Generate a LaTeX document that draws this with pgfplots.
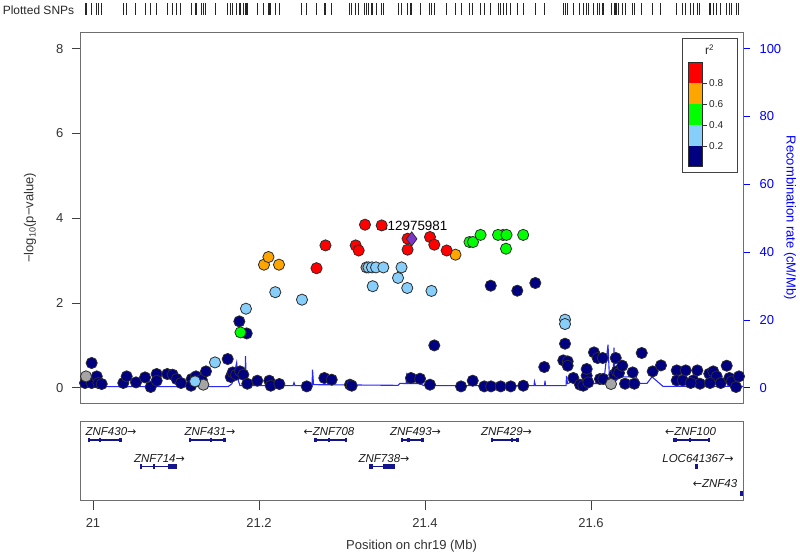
\documentclass[border=0pt]{standalone}
\usepackage{fontspec}
\setmainfont{Liberation Sans}
\newfontfamily\arrowfont{DejaVu Sans}
\usepackage{pgfplots}
\usepackage{pgfplotstable}
\pgfplotsset{compat=1.18}
\definecolor{navyc}{RGB}{0,0,128}
\definecolor{lblue}{RGB}{135,206,250}
\definecolor{lgreen}{RGB}{0,255,0}
\definecolor{lorange}{RGB}{255,165,0}
\definecolor{lred}{RGB}{255,0,0}
\definecolor{lgray}{RGB}{165,165,165}
\definecolor{lpurple}{RGB}{125,55,200}
\definecolor{recblue}{RGB}{40,40,255}
\definecolor{axblue}{RGB}{0,0,255}
\definecolor{framegray}{RGB}{110,110,110}
\definecolor{edgec}{RGB}{45,45,45}
\definecolor{genec}{RGB}{20,20,140}

\pgfplotstableread{
x y
20.9904 0.111
20.9984 0.583
20.9984 0.111
21.0045 0.267
21.0064 0.111
21.0105 0.087
21.0365 0.111
21.0406 0.267
21.0518 0.125
21.0627 0.243
21.0695 0.017
21.0767 0.323
21.0767 0.165
21.0895 0.323
21.0960 0.307
21.1008 0.205
21.1060 0.111
21.1189 0.205
21.1181 0.047
21.1241 0.267
21.1310 0.189
21.1361 0.385
21.1623 0.677
21.1660 0.253
21.1683 0.361
21.1723 0.307
21.1771 0.385
21.1811 0.307
21.1859 0.094
21.1763 1.565
21.1852 1.281
21.1980 0.165
21.2124 0.165
21.2141 0.047
21.2245 0.087
21.2575 0.031
21.2787 0.229
21.2876 0.189
21.3096 0.071
21.3117 0.047
21.3831 0.229
21.3940 0.212
21.4060 0.071
21.4112 0.998
21.4434 0.031
21.4575 0.165
21.4714 0.031
21.4795 0.031
21.4912 0.031
21.5033 0.031
21.5184 0.047
21.4792 2.407
21.5112 2.289
21.5329 2.471
21.5437 0.488
21.5687 1.038
21.5666 0.644
21.5719 0.621
21.5719 0.519
21.5787 0.229
21.5867 0.071
21.5907 0.047
21.5948 0.283
21.5948 0.441
21.5967 0.125
21.6036 0.833
21.6080 0.701
21.6141 0.701
21.6108 0.205
21.6148 0.205
21.6281 0.307
21.6310 0.385
21.6298 0.701
21.6337 0.347
21.6377 0.519
21.6410 0.094
21.6502 0.361
21.6522 0.094
21.6611 0.819
21.6743 0.385
21.6843 0.526
21.7033 0.408
21.7033 0.172
21.7141 0.408
21.7105 0.172
21.7281 0.408
21.7233 0.172
21.7313 0.094
21.7201 0.111
21.7425 0.330
21.7473 0.385
21.7514 0.267
21.7434 0.111
21.7563 0.111
21.7635 0.519
21.7667 0.229
21.7695 0.149
21.7747 0.017
21.7783 0.267
}\navytab

\pgfplotstableread{
x y
20.9916 0.267
21.1329 0.071
21.6241 0.087
21.3295 2.839
21.4940 3.604
}\graytab

\pgfplotstableread{
x y
21.1229 0.149
21.1470 0.597
21.1843 1.864
21.2196 2.254
21.2518 2.077
21.3319 2.839
21.3361 2.839
21.3410 2.839
21.3498 2.839
21.3370 2.395
21.3717 2.839
21.3675 2.591
21.3786 2.353
21.4078 2.284
21.5687 1.605
21.5687 1.503
}\lbluetab

\pgfplotstableread{
x y
21.1777 1.305
21.4536 3.438
21.4578 3.438
21.4669 3.606
21.4880 3.606
21.4982 3.606
21.4976 3.280
21.5183 3.606
}\greentab

\pgfplotstableread{
x y
21.2060 2.903
21.2114 3.084
21.2241 2.903
21.4367 3.139
}\orangetab

\pgfplotstableread{
x y
21.2693 2.820
21.2801 3.358
21.3165 3.358
21.3201 3.238
21.3277 3.847
21.3478 3.830
21.3790 3.516
21.3790 3.257
21.4060 3.556
21.4112 3.375
21.4261 3.238
}\redtab

\pgfplotstableread{
x y
21.3840 3.512
}\indextab

\pgfplotstableread{
x rate
20.9904 0.3
21.1627 0.3
21.1675 1.2
21.1731 7.4
21.1747 2.4
21.1771 0.6
21.1831 0.6
21.1837 9.3
21.1849 0.6
21.2410 0.6
21.2422 1.5
21.2434 0.6
21.2639 0.6
21.2645 5.3
21.2657 0.9
21.3675 0.7
21.3699 1.3
21.3771 1.2
21.3777 3.2
21.3789 1.2
21.3940 1.2
21.3988 0.6
21.5313 0.6
21.5319 1.8
21.5331 0.6
21.5440 0.6
21.5446 2.1
21.5452 0.6
21.5699 0.6
21.5705 3.5
21.5717 1.2
21.5747 1.5
21.5795 2.4
21.5843 1.2
21.6084 1.2
21.6157 2.4
21.6205 12.7
21.6223 2.4
21.6265 2.1
21.6277 11.8
21.6289 1.8
21.6349 3.2
21.6542 3.2
21.6590 1.3
21.6675 1.3
21.6735 3.2
21.6867 0.4
21.7831 0.4
}\rectab

\pgfplotsset{
  pt/.style={only marks, mark=*, mark size=5.6pt, mark options={draw=edgec, line width=0.8pt, fill=#1}},
  gene/.style={genec, line width=1.1pt, mark=none},
  exon/.style={genec, line width=4.6pt, mark=none},
  exontick/.style={genec, only marks, mark=|, mark size=2.4pt, mark options={line width=2.2pt}},
  rug/.style={ycomb, mark=none, black!85, line width=1pt},
}
\newcommand{\tickfont}{\fontsize{13}{15}\selectfont}
\newcommand{\genefont}{\fontsize{11.5}{13}\selectfont\itshape}
\newcommand{\ra}{{\arrowfont\upshape\fontsize{11}{13}\selectfont →}}
\newcommand{\la}{{\arrowfont\upshape\fontsize{11}{13}\selectfont ←}}

\begin{document}
\begin{tikzpicture}
\useasboundingbox (0,0) rectangle (800pt,555pt);

% --- SNP rug ---
\node[anchor=center, font=\fontsize{12}{14}\selectfont, text=black!85] at (38.5pt,545pt) {Plotted SNPs};
\begin{axis}[at={(80pt,540pt)}, anchor=south west, scale only axis,
  width=663pt, height=12pt, xmin=20.98434, xmax=21.78313, ymin=0, ymax=1,
  hide axis, clip=false]
\addplot[rug] table[x=x, y expr=1] {\navytab};
\addplot[rug] table[x=x, y expr=1] {\graytab};
\addplot[rug] table[x=x, y expr=1] {\lbluetab};
\addplot[rug] table[x=x, y expr=1] {\greentab};
\addplot[rug] table[x=x, y expr=1] {\orangetab};
\addplot[rug] table[x=x, y expr=1] {\redtab};
\addplot[rug] table[x=x, y expr=1] {\indextab};
\end{axis}

% --- recombination rate (right axis) ---
\begin{axis}[at={(80pt,152pt)}, anchor=south west, scale only axis,
  width=663pt, height=370.3pt, xmin=20.98434, xmax=21.78313,
  ymin=-4.51, ymax=104.72, clip=false,
  axis x line=none, axis y line*=right, y axis line style={draw=none},
  ytick={0,20,40,60,80,100}, tick align=outside, major tick length=7pt,
  ytick style={axblue, line width=0.8pt},
  yticklabel style={font=\tickfont, text=axblue},
  /pgf/number format/assume math mode=true,
  yticklabel shift=6pt,
  ylabel={Recombination rate (cM/Mb)},
  every axis y label/.style={at={(axis description cs:1.071,0.5)}, rotate=-90, anchor=center, font=\tickfont, text=axblue}]
\addplot[recblue, line width=1.1pt, mark=none] table[x=x, y=rate] {\rectab};
\draw[axblue, line width=0.8pt] (axis cs:21.78313,0) -- (axis cs:21.78313,100);
\end{axis}

% --- association p-values ---
\begin{axis}[at={(80pt,152pt)}, anchor=south west, scale only axis,
  width=663pt, height=370.3pt, xmin=20.98434, xmax=21.78313,
  ymin=-0.361, ymax=8.378,
  axis line style={framegray, line width=0.8pt},
  xtick=\empty, ytick={0,2,4,6,8}, ytick pos=left,
  tick align=outside, major tick length=8pt,
  ytick style={black!75, line width=0.8pt},
  yticklabel style={font=\tickfont, text=black!80},
  /pgf/number format/assume math mode=true,
  yticklabel shift=5pt,
  ylabel={−log\textsubscript{10}(p−value)},
  every axis y label/.style={at={(axis description cs:-0.0755,0.5)}, rotate=90, anchor=center, font=\tickfont, text=black!80}]
\addplot[pt=navyc] table[x=x, y=y] {\navytab};
\addplot[pt=lgray] table[x=x, y=y] {\graytab};
\addplot[pt=lblue] table[x=x, y=y] {\lbluetab};
\addplot[pt=lgreen] table[x=x, y=y] {\greentab};
\addplot[pt=lorange] table[x=x, y=y] {\orangetab};
\addplot[pt=lred] table[x=x, y=y] {\redtab};
\addplot[only marks, mark=diamond*, mark size=7pt, mark options={draw=edgec, line width=0.8pt, fill=lpurple}] table[x=x, y=y] {\indextab};
\node[font=\fontsize{13.4}{15}\selectfont, text=black] at (axis cs:21.3843,3.82) {rs12975981};
\end{axis}

% --- r^2 legend ---
\fill[white] (682pt,383pt) rectangle (737pt,517pt);
\draw[framegray!60!black, line width=0.8pt] (682pt,383pt) rectangle (737pt,517pt);
\node[font=\fontsize{12}{14}\selectfont, text=black!85] at (709.5pt,505pt) {r\textsuperscript{2}};
\fill[lred] (688pt,472pt) rectangle (702pt,493pt);
\fill[lorange] (688pt,451pt) rectangle (702pt,472pt);
\fill[lgreen] (688pt,430pt) rectangle (702pt,451pt);
\fill[lblue] (688pt,409pt) rectangle (702pt,430pt);
\fill[navyc] (688pt,389pt) rectangle (702pt,409pt);
\draw[edgec, line width=0.6pt] (688pt,389pt) rectangle (702pt,493pt);
\foreach \yy/\lab in {472/0.8, 451/0.6, 430/0.4, 409/0.2}{
  \draw[black!80, line width=0.6pt] (702pt,\yy pt) -- (707pt,\yy pt);
  \node[anchor=west, inner sep=1pt, font=\fontsize{10}{12}\selectfont, text=black!85] at (708pt,\yy pt) {\lab};
}

% --- gene track ---
\begin{axis}[at={(80pt,55pt)}, anchor=south west, scale only axis,
  width=663pt, height=78.3pt, xmin=20.98434, xmax=21.78313,
  ymin=0, ymax=78.3, clip=false,
  axis line style={framegray, line width=0.8pt},
  ytick=\empty, xtick={21,21.2,21.4,21.6}, xticklabels={21,21.2,21.4,21.6},
  xtick pos=bottom, tick align=outside, major tick length=10pt,
  xtick style={black!75, line width=0.8pt},
  xticklabel style={font=\tickfont, text=black!80},
  xticklabel shift=5pt,
  xlabel={Position on chr19 (Mb)},
  every axis x label/.style={at={(axis description cs:0.5,-0.59)}, anchor=center, font=\tickfont, text=black!80}]
% ZNF430
\addplot[gene] coordinates {(20.9955,60) (21.0353,60)};
\addplot[exon] coordinates {(21.0317,60) (21.0353,60)};
\addplot[exontick] coordinates {(20.9955,60) (21.0084,60)};
% ZNF431
\addplot[gene] coordinates {(21.1169,60) (21.1602,60)};
\addplot[exon] coordinates {(21.1570,60) (21.1602,60)};
\addplot[exontick] coordinates {(21.1169,60) (21.1422,60)};
% ZNF708
\addplot[gene] coordinates {(21.2663,60) (21.3048,60)};
\addplot[exon] coordinates {(21.2663,60) (21.2703,60)};
\addplot[exontick] coordinates {(21.2847,60) (21.3048,60)};
% ZNF493
\addplot[gene] coordinates {(21.3719,60) (21.3988,60)};
\addplot[exon] coordinates {(21.3783,60) (21.3825,60)};
\addplot[exon] coordinates {(21.3955,60) (21.3988,60)};
\addplot[exontick] coordinates {(21.3719,60)};
% ZNF429
\addplot[gene] coordinates {(21.4803,60) (21.5136,60)};
\addplot[exon] coordinates {(21.5096,60) (21.5136,60)};
\addplot[exontick] coordinates {(21.4807,60) (21.5052,60)};
% ZNF100
\addplot[gene] coordinates {(21.6984,60) (21.7430,60)};
\addplot[exon] coordinates {(21.6984,60) (21.7032,60)};
\addplot[exontick] coordinates {(21.7193,60) (21.7422,60)};
% ZNF714
\addplot[gene] coordinates {(21.0566,33.3) (21.1008,33.3)};
\addplot[exon] coordinates {(21.0907,33.3) (21.1008,33.3)};
\addplot[exontick] coordinates {(21.0578,33.3) (21.0739,33.3)};
% ZNF738
\addplot[gene] coordinates {(21.3329,33.3) (21.3639,33.3)};
\addplot[exon] coordinates {(21.3498,33.3) (21.3639,33.3)};
\addplot[exontick] coordinates {(21.3337,33.3) (21.3365,33.3)};
% LOC641367
\addplot[exon] coordinates {(21.7257,33.3) (21.7285,33.3)};
% ZNF43
\addplot[exon] coordinates {(21.7795,6.7) (21.7831,6.7)};
% labels
\node[font=\genefont, text=black!90] at (axis cs:21.0217,68.3) {ZNF430\ra};
\node[font=\genefont, text=black!90] at (axis cs:21.1410,68.3) {ZNF431\ra};
\node[font=\genefont, text=black!90] at (axis cs:21.2843,68.3) {\la ZNF708};
\node[font=\genefont, text=black!90] at (axis cs:21.3886,68.3) {ZNF493\ra};
\node[font=\genefont, text=black!90] at (axis cs:21.4982,68.3) {ZNF429\ra};
\node[font=\genefont, text=black!90] at (axis cs:21.7199,68.3) {\la ZNF100};
\node[font=\genefont, text=black!90] at (axis cs:21.0801,41.7) {ZNF714\ra};
\node[font=\genefont, text=black!90] at (axis cs:21.3506,41.7) {ZNF738\ra};
\node[font=\genefont, text=black!90] at (axis cs:21.7289,41.7) {LOC641367\ra};
\node[font=\genefont, text=black!90] at (axis cs:21.7494,16) {\la ZNF43};
\end{axis}
\end{tikzpicture}
\end{document}
